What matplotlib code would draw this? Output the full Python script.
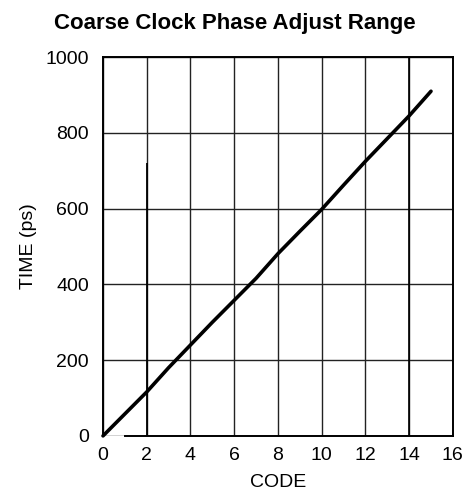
#!/usr/bin/env python3
"""plot.py — coarse clock phase adjust range chart."""

import matplotlib
matplotlib.use("Agg")
import matplotlib.pyplot as plt

OUTPUT_NAME = "out.png"

TITLE = "Coarse Clock Phase Adjust Range"
XLABEL = "CODE"
YLABEL = "TIME (ps)"

code = [0, 1, 2, 3, 4, 5, 6, 7, 8, 9, 10, 11, 12, 13, 14, 15]
time_ps = [0, 58, 116, 180, 240, 300, 358, 416, 481, 540, 598, 662, 725, 785, 845, 910]

x_ticks = [0, 2, 4, 6, 8, 10, 12, 14, 16]
y_ticks = [0, 200, 400, 600, 800, 1000]

plt.rcParams["font.family"] = ["Liberation Sans", "DejaVu Sans"]


def main() -> None:
    fig = plt.figure(figsize=(4.64, 4.97), dpi=100)
    ax = fig.add_axes([0.222, 0.123, 0.754, 0.762])

    ax.set_xlim(0, 16)
    ax.set_ylim(0, 1000)
    ax.set_xticks(x_ticks)
    ax.set_yticks(y_ticks)
    ax.tick_params(length=0, labelsize=14)
    ax.tick_params(axis="x", pad=8)
    ax.tick_params(axis="y", pad=10)
    ax.grid(True, color="#222222", linewidth=1.0)
    ax.set_axisbelow(True)

    for side in ("left", "top", "right"):
        ax.spines[side].set_linewidth(1.4)
    ax.spines["bottom"].set_visible(False)
    # bottom edge starts a little right of the origin
    ax.plot([1, 16], [0, 0], color="black", linewidth=1.4, clip_on=False, zorder=2)

    # darker stub on the code-2 line and a heavier code-14 line
    ax.vlines(2, 0, 720, color="black", linewidth=1.3, zorder=2)
    ax.axvline(14, color="black", linewidth=1.2, zorder=2)

    ax.plot(code, time_ps, color="black", linewidth=2.6,
            solid_capstyle="round", solid_joinstyle="round",
            zorder=3, clip_on=False)

    ax.set_xlabel(XLABEL, fontsize=14, labelpad=7)
    ax.set_ylabel(YLABEL, fontsize=14, labelpad=6)
    fig.text(0.507, 0.953, TITLE, ha="center", va="center",
             fontsize=16, fontweight="bold")

    fig.savefig(OUTPUT_NAME, dpi=100)


if __name__ == "__main__":
    main()
